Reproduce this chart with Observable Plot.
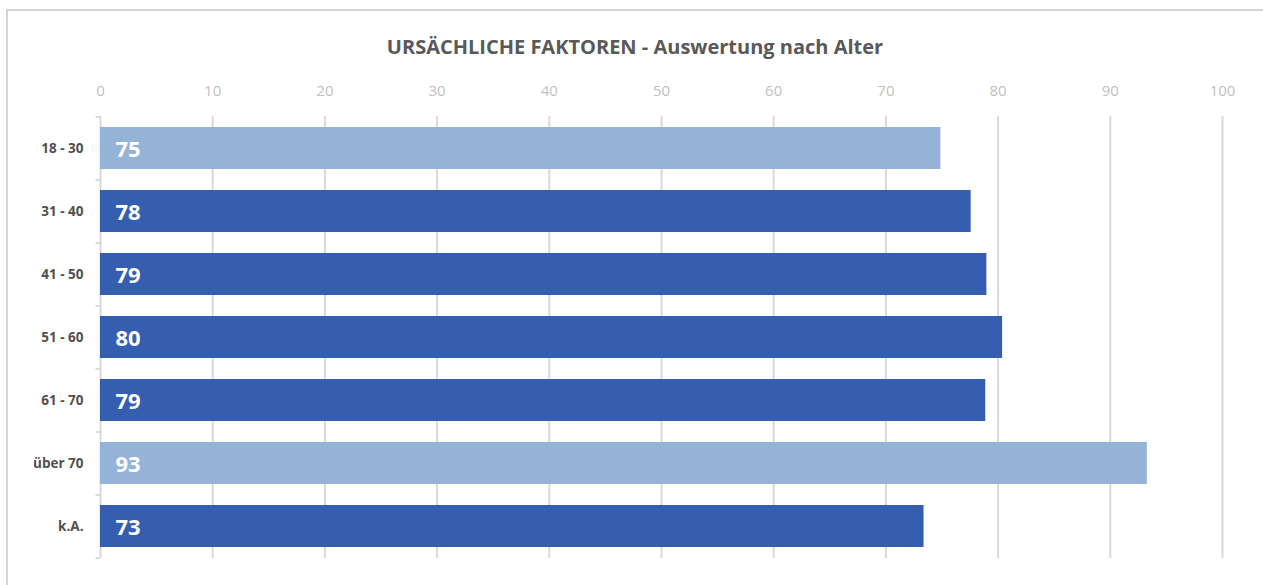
<!DOCTYPE html>
<html>
<head>
<meta charset="utf-8">
<script src="https://cdn.jsdelivr.net/npm/d3@7"></script>
<script src="https://cdn.jsdelivr.net/npm/@observablehq/plot@0.6"></script>
<style>
  html, body { margin: 0; padding: 0; background: #fff; }
  #frame { position: absolute; left: 6px; top: 9px; width: 1262px; height: 590px;
           border-left: 2px solid #d4d4d4; border-top: 2px solid #d4d4d4; box-sizing: border-box; }
  #title { position: absolute; left: 0; top: 33px; width: 1270px; text-align: center;
           font-family: "Open Sans", sans-serif; font-weight: 700; font-size: 20px; color: #595959; }
  #chart { position: absolute; left: 0; top: 0; }
</style>
</head>
<body>
<div id="frame"></div>
<div id="title">URSÄCHLICHE FAKTOREN - Auswertung nach Alter</div>
<div id="chart"></div>
<script>
const categories = ["18 - 30", "31 - 40", "41 - 50", "51 - 60", "61 - 70", "über 70", "k.A."];
const values = [74.9, 77.6, 79.0, 80.4, 78.9, 93.3, 73.4];
const labels = ["75", "78", "79", "80", "79", "93", "73"];
const highlight = [true, false, false, false, false, true, false];
const xTicks = [0, 10, 20, 30, 40, 50, 60, 70, 80, 90, 100];

const data = categories.map((c, i) => ({cat: c, value: values[i], label: labels[i], light: highlight[i]}));

const chart = Plot.plot({
  width: 1263,
  height: 585,
  marginLeft: 100,
  marginRight: 41,
  marginTop: 116,
  marginBottom: 27,
  style: {fontFamily: "'Open Sans', sans-serif", background: "transparent"},
  x: {domain: [0, 100], axis: "top", ticks: xTicks, tickSize: 0, tickPadding: 21, label: null},
  y: {domain: categories, paddingInner: 0.34, paddingOuter: 0.16, tickSize: 0, tickPadding: 17, label: null},
  marks: [
    Plot.ruleX(xTicks, {stroke: "#d9d9d9", strokeWidth: 2}),
    Plot.ruleY(categories, {y: d => d, x1: -0.4, x2: 0, dy: -31.6, stroke: "#d9d9d9", strokeWidth: 2}),
    Plot.ruleY([categories[categories.length - 1]], {y: d => d, x1: -0.4, x2: 0, dy: 31.6, stroke: "#d9d9d9", strokeWidth: 2}),
    Plot.barX(data, {y: "cat", x: "value", fill: d => d.light ? "#95b3d7" : "#365eb0"}),
    Plot.text(data, {y: "cat", x: 0, text: "label", dx: 15, dy: 1, textAnchor: "start",
      fill: "#ffffff", fontWeight: "bold", fontSize: 22})
  ]
});
document.getElementById("chart").appendChild(chart);

d3.select(chart).selectAll("g[aria-label='x-axis tick label']")
  .attr("fill", "#bfbfbf").attr("font-size", 15);
d3.select(chart).selectAll("g[aria-label='y-axis tick label']")
  .attr("fill", "#505050").attr("font-size", 13.5).attr("font-weight", "bold");
</script>
</body>
</html>
